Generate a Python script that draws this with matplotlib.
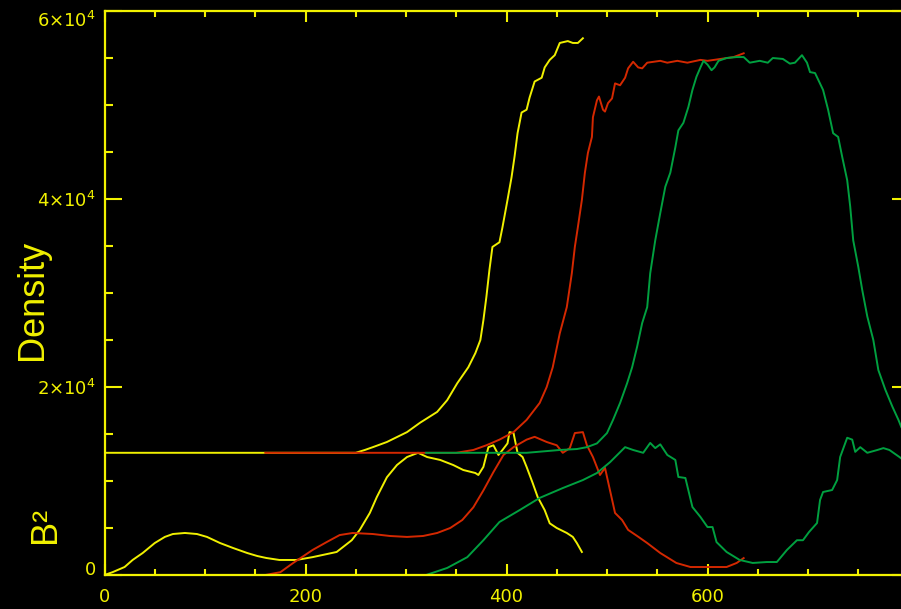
import matplotlib
matplotlib.use('Agg')
import matplotlib.pyplot as plt
import numpy as np

# three snapshots, each shifted by 160 along x
yellow_dens_x = [0, 250, 259, 267, 281, 301, 314, 331, 341, 351, 362, 369, 374, 377, 380, 383, 386, 393, 396, 401,
                 405, 408, 411, 415, 420, 423, 428, 435, 438, 443, 448, 453, 461, 466, 471, 476]
yellow_dens_y = [13000, 13000, 13300, 13600, 14150, 15200, 16200, 17350, 18600, 20400, 22100, 23600, 25000, 27100,
                 29600, 32450, 34900, 35400, 37000, 39900, 42300, 44500, 47000, 49200, 49500, 50800, 52500, 52900,
                 54000, 54800, 55300, 56600, 56800, 56600, 56600, 57100]

yellow_b2_x = [0, 8, 20, 28, 38, 50, 60, 68, 80, 92, 102, 115, 128, 142, 152, 161, 174, 191, 207, 231, 246, 254,
               264, 271, 281, 291, 301, 312, 321, 334, 347, 357, 369, 372, 377, 382, 387, 392, 396, 401, 403, 407,
               411, 416, 420, 426, 431, 438, 443, 450, 460, 466, 470, 475]
yellow_b2_y = [0, 300, 850, 1600, 2340, 3400, 4050, 4360, 4470, 4360, 4050, 3400, 2870, 2340, 2020, 1810, 1600,
               1600, 1900, 2450, 3700, 4800, 6600, 8300, 10400, 11700, 12550, 13000, 12550, 12240, 11700, 11170,
               10850, 10640, 11500, 13600, 13800, 12770, 13300, 14000, 15200, 15100, 13000, 12550, 11500, 9800,
               8300, 6900, 5500, 5000, 4470, 4050, 3400, 2450]

red_dens_x = [160, 350, 367, 380, 393, 407, 420, 433, 440, 446, 453, 460, 465, 468, 471, 475, 478, 481, 485, 486,
              490, 492, 496, 498, 501, 505, 508, 513, 518, 521, 526, 531, 535, 540, 553, 560, 570, 580, 593, 600,
              613, 626, 636]
red_dens_y = [13000, 13000, 13300, 13800, 14400, 15200, 16500, 18300, 20000, 22100, 25700, 28500, 32100, 34900,
              37000, 39900, 42800, 44900, 46600, 48700, 50500, 50900, 49500, 49300, 50200, 50700, 52300, 52100,
              52900, 53900, 54600, 54000, 53900, 54500, 54700, 54500, 54700, 54500, 54800, 54700, 54900, 55100,
              55500]

red_b2_x = [160, 175, 188, 195, 207, 221, 234, 247, 267, 284, 301, 317, 331, 344, 356, 367, 377, 387, 397, 407,
            420, 428, 440, 450, 456, 463, 468, 476, 480, 486, 493, 498, 503, 508, 515, 521, 530, 540, 553, 569,
            583, 600, 619, 629, 636]
red_b2_y = [0, 300, 1300, 1800, 2660, 3500, 4250, 4470, 4360, 4150, 4050, 4150, 4470, 5000, 5850, 7200, 9000,
            10950, 12770, 13600, 14400, 14700, 14150, 13800, 13000, 13500, 15100, 15200, 13800, 12550, 10640,
            11400, 9000, 6600, 5850, 4800, 4150, 3400, 2340, 1280, 850, 850, 850, 1280, 1800]

green_dens_x = [320, 420, 453, 470, 480, 490, 500, 506, 513, 520, 525, 530, 535, 540, 543, 548, 553, 558, 563,
                568, 571, 576, 581, 585, 589, 593, 596, 600, 604, 607, 611, 619, 629, 636, 642, 652, 660, 665, 675,
                682, 687, 694, 699, 702, 707, 715, 720, 725, 730, 734, 739, 742, 745, 750, 754, 759, 765, 770, 777,
                784, 790, 793, 800]
green_dens_y = [13000, 13000, 13300, 13400, 13600, 14000, 15100, 16500, 18300, 20400, 22100, 24300, 26800, 28500,
                32100, 35600, 38500, 41300, 42800, 45500, 47300, 48100, 49800, 51600, 53000, 54000, 54700, 54300,
                53700, 54000, 54700, 55000, 55100, 55100, 54500, 54700, 54500, 55000, 54900, 54400, 54500, 55300,
                54500, 53500, 53400, 51600, 49500, 47000, 46600, 44500, 42000, 39200, 35600, 32800, 30300, 27500,
                25000, 21800, 19700, 17900, 16500, 15700, 14800]

green_b2_x = [320, 341, 361, 377, 393, 413, 433, 456, 476, 490, 503, 518, 526, 536, 543, 548, 553, 560, 568, 571,
              578, 585, 593, 600, 605, 609, 619, 632, 645, 659, 669, 679, 689, 695, 701, 709, 712, 715, 724, 729,
              732, 739, 744, 747, 752, 759, 769, 775, 781, 791, 800]
green_b2_y = [0, 750, 1900, 3700, 5640, 6900, 8200, 9250, 10100, 10850, 12000, 13600, 13300, 13000, 14050, 13500,
              13900, 12770, 12240, 10430, 10320, 7230, 6170, 5100, 5100, 3500, 2450, 1600, 1280, 1380, 1380, 2660,
              3700, 3700, 4570, 5530, 7980, 8830, 9040, 10100, 12550, 14600, 14400, 13100, 13600, 13000, 13300,
              13500, 13300, 12550, 11800]

x_ticks = [0, 200, 400, 600]
x_labels = ['0', '200', '400', '600']
y_ticks = [0, 20000, 40000, 60000]
y_labels = ['0', r'$2{\times}10^{4}$', r'$4{\times}10^{4}$', r'$6{\times}10^{4}$']

AX_COL = '#f2f200'
YEL = '#f0f000'
RED = '#d42800'
GRN = '#00a040'

plt.rcParams['mathtext.fontset'] = 'dejavusans'

fig = plt.figure(figsize=(9.01, 6.09), dpi=100, facecolor='black')
# axes runs past the right edge of the figure, like the cropped original
ax = fig.add_axes([104.5 / 901, 34 / 609, 804 / 901, 564 / 609], facecolor='black')

lw = 1.4
ax.plot(yellow_dens_x, yellow_dens_y, color=YEL, lw=lw)
ax.plot(yellow_b2_x, yellow_b2_y, color=YEL, lw=lw)
ax.plot(red_dens_x, red_dens_y, color=RED, lw=lw)
ax.plot(red_b2_x, red_b2_y, color=RED, lw=lw)
ax.plot(green_dens_x, green_dens_y, color=GRN, lw=lw)
ax.plot(green_b2_x, green_b2_y, color=GRN, lw=lw)

ax.set_xlim(0, 800)
ax.set_ylim(0, 60000)
ax.set_xticks(x_ticks)
ax.set_xticklabels(x_labels)
ax.set_xticks(np.arange(0, 801, 50), minor=True)
ax.set_yticks(y_ticks)
ax.set_yticklabels(y_labels)
ax.set_yticks(np.arange(0, 60001, 5000), minor=True)

for s in ax.spines.values():
    s.set_color(AX_COL)
    s.set_linewidth(1.6)

ax.tick_params(axis='both', which='both', direction='in', color=AX_COL, labelcolor=AX_COL,
               top=True, right=True, width=1.5, labelsize=13)
ax.tick_params(axis='x', which='major', length=8, pad=9)
ax.tick_params(axis='x', which='minor', length=4)
ax.tick_params(axis='y', which='major', length=12, pad=6)
ax.tick_params(axis='y', which='minor', length=6)

# top label hangs from the top axis, zero sits on the bottom axis
ax.get_yticklabels()[-1].set_va('top')
ax.get_yticklabels()[0].set_va('baseline')

fig.text(42 / 901, 1 - 300 / 609, 'Density', color=YEL, fontsize=26, family='Liberation Sans',
         rotation=90, rotation_mode='anchor', ha='center', va='baseline')
fig.text(55 / 901, 1 - 525 / 609, 'B²', color=YEL, fontsize=26, family='Liberation Sans',
         rotation=90, rotation_mode='anchor', ha='center', va='baseline')

fig.savefig('out.png', dpi=100, facecolor='black')
